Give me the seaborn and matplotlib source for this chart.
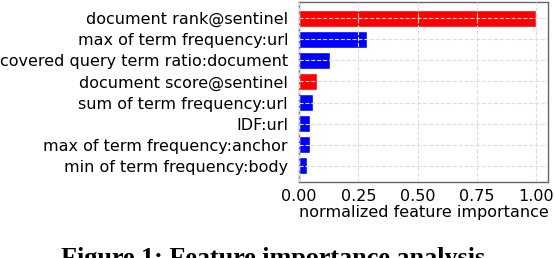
import matplotlib
matplotlib.use("Agg")
import matplotlib.pyplot as plt
import seaborn as sns
import pandas as pd

features = [
    "document rank@sentinel",
    "max of term frequency:url",
    "covered query term ratio:document",
    "document score@sentinel",
    "sum of term frequency:url",
    "IDF:url",
    "max of term frequency:anchor",
    "min of term frequency:body",
]
importance = [1.0, 0.288, 0.13, 0.077, 0.058, 0.046, 0.045, 0.032]
group = ["sentinel", "other", "other", "sentinel", "other", "other", "other", "other"]
xticks = [0.0, 0.25, 0.5, 0.75, 1.0]
xtick_labels = ["0.00", "0.25", "0.50", "0.75", "1.00"]

df = pd.DataFrame({"feature": features, "importance": importance, "group": group})

sns.set_style("white")
plt.rcParams["font.family"] = ["DejaVu Sans"]
plt.rcParams["text.color"] = "black"
plt.rcParams["xtick.color"] = "black"
plt.rcParams["ytick.color"] = "black"
plt.rcParams["axes.labelcolor"] = "black"

fig = plt.figure(figsize=(5.54, 2.58), dpi=100)
ax = fig.add_axes([0.54, 0.295, 0.449, 0.697])

sns.barplot(data=df, y="feature", x="importance", hue="group",
            palette={"sentinel": "#ff0000", "other": "#0000ff"},
            dodge=False, legend=False, width=0.8, ax=ax, saturation=1)

ax.set_xlim(0, 1.05)
ax.set_ylim(7.76, -0.76)
ax.set_xticks(xticks)
ax.set_xticklabels(xtick_labels)
ax.set_ylabel("")
ax.set_xlabel("normalized feature importance", fontsize=11.5, labelpad=1)
ax.tick_params(axis="both", labelsize=11.5, length=3, color="#555555", pad=2)
ax.tick_params(axis="y", length=0, pad=8)
ax.grid(True, linestyle="--", color="#dddddd", linewidth=0.8)
ax.set_axisbelow(False)
for s in ax.spines.values():
    s.set_color("#666666")
    s.set_linewidth(1.0)

fig.text(0.498, 0.0, "Figure 1: Feature importance analysis.", ha="center", va="center",
         fontsize=18.8, fontweight="bold", family=["Liberation Serif"], color="black")

fig.savefig("out.png", dpi=100)
